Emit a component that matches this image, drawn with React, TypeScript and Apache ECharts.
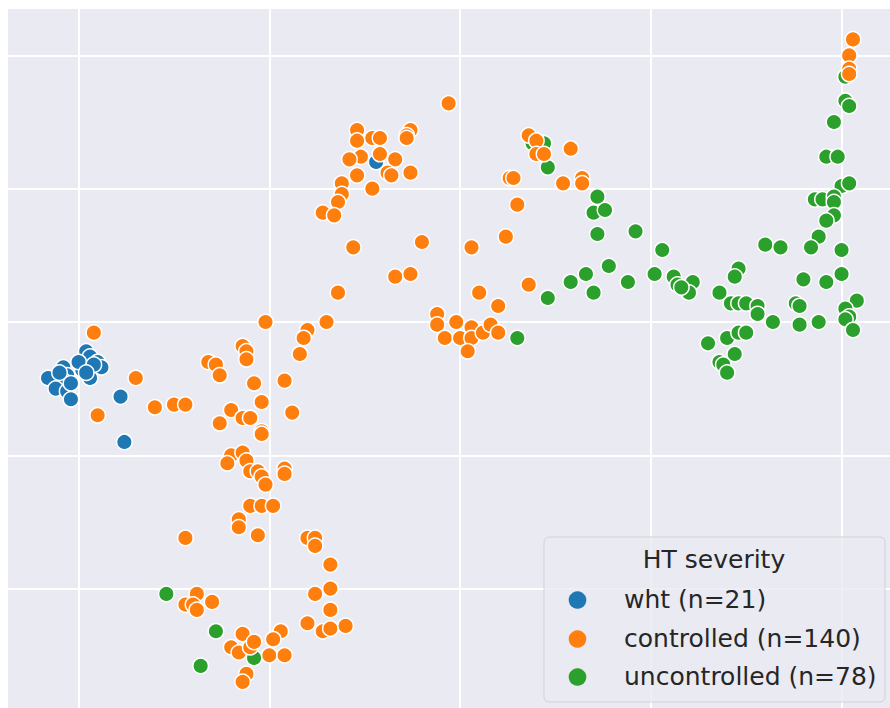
import React, { useEffect, useRef } from "react";
import * as echarts from "echarts";

const categories = ["wht (n=21)", "controlled (n=140)", "uncontrolled (n=78)"];
const legendTitle = "HT severity";
const colors = ["#1f77b4", "#ff7f0e", "#2ca02c"];

const whtPoints: [number, number][] = [
  [-98, -11], [-97, -13], [-95, -15], [-94, -17], [-99, -18], [-100, -15], [-97, -21],
  [-104, -17], [-103, -20], [-104, -22], [-108, -21], [-106, -25], [-103, -26], [-102, -29],
  [-89, -28], [-88, -45], [-22, 60], [-105, -19], [-96, -16], [-98, -19], [-102, -23],
];

const controlledPoints: [number, number][] = [
  [-96, -4], [-85, -21], [-95, -35], [-80, -32], [-51, 0], [-40, -3], [-41, -6], [-42, -12],
  [-35, 0], [-57, -9], [-56, -11], [-56, -14], [-66, -15], [-64, -16], [-63, -20], [-54, -23],
  [-46, -22], [-75, -31], [-72, -31], [-52, -30], [-60, -33], [-57, -36], [-55, -36], [-63, -38],
  [-44, -34], [-52, -41], [-52, -42], [-60, -50], [-61, -53], [-57, -49], [-56, -52], [-55, -56],
  [-53, -56], [-52, -58], [-51, -61], [-46, -55], [-46, -57], [-55, -69], [-52, -69], [-49, -69],
  [-58, -74], [-58, -77], [-53, -80], [-72, -81], [-40, -81], [-38, -81], [-38, -84], [-34, -91],
  [-34, -100], [-38, -102], [-34, -108], [-40, -113], [-36, -116], [-34, -115], [-30, -114],
  [-69, -102], [-72, -106], [-70, -106], [-69, -108], [-65, -105], [-57, -117], [-60, -122],
  [-58, -124], [-55, -122], [-54, -120], [-47, -116], [-49, -119], [-50, -125], [-46, -125],
  [-56, -132], [-57, -135],
  [-27, 72], [-27, 68], [-23, 69], [-21, 69], [-13, 72], [-14, 70], [-14, 69], [-26, 62],
  [-29, 61], [-21, 63], [-17, 61], [-27, 55], [-19, 56], [-18, 55], [-13, 56], [-23, 50],
  [-31, 52], [-31, 48], [-32, 45], [-36, 41], [-33, 40], [-28, 28], [-10, 30], [-17, 17],
  [-13, 18], [-32, 11], [-3, 82],
  [18, 70], [20, 68], [20, 63], [22, 63], [29, 65], [13, 54], [14, 54], [27, 52], [32, 54],
  [32, 52], [15, 44], [12, 32], [3, 28], [5, 11], [10, 6], [18, 14], [-6, 3], [-6, -1],
  [-4, -6], [-1, 0], [0, -6], [3, -2], [3, -6], [6, -4], [8, -1], [10, -4], [2, -11],
  [103, 106], [102, 100], [102, 95], [102, 93],
];

const uncontrolledPoints: [number, number][] = [
  [-77, -102], [-64, -116], [-54, -126], [-68, -129],
  [19, 67], [22, 67], [23, 58], [36, 47], [35, 41], [38, 42], [36, 33], [46, 34], [53, 27],
  [39, 21], [33, 18], [29, 15], [35, 11], [23, 9], [44, 15], [15, -6], [51, 18], [56, 17],
  [57, 14], [61, 15], [60, 11], [58, 13], [68, 11], [73, 20], [72, 17], [71, 7], [73, 7],
  [65, -8], [70, -6], [73, -4], [72, -12], [68, -15], [69, -16], [70, -19],
  [101, 92], [101, 83], [102, 81], [98, 75], [96, 62], [99, 62], [100, 51], [102, 52],
  [93, 46], [95, 46], [98, 47], [98, 45], [98, 40], [96, 38], [94, 32], [92, 28], [80, 29],
  [84, 28], [100, 27], [90, 16], [100, 18], [96, 15], [75, 7], [78, 6], [78, 3], [88, 7],
  [89, 6], [104, 8], [101, 5], [102, 2], [101, 1], [82, 0], [89, -1], [94, 0], [103, -3],
  [75, -4],
];

const xMin = -118.5;
const xMax = 112.7;
const yMin = -144.8;
const yMax = 117.4;

export default function App() {
  const ref = useRef<HTMLDivElement>(null);

  useEffect(() => {
    if (!ref.current) return;
    const chart = echarts.init(ref.current, undefined, { renderer: "svg" });
    const font = '"DejaVu Sans", Verdana, sans-serif';
    const seriesData = [whtPoints, controlledPoints, uncontrolledPoints];
    const drawOrder = [0, 2, 1];
    const legendRows = [600, 639, 677];

    const graphicEls: any[] = [
      {
        type: "rect",
        shape: { x: 544, y: 537, width: 341, height: 165, r: 5 },
        style: { fill: "rgba(234,234,242,0.8)", stroke: "rgba(204,204,204,0.8)", lineWidth: 1 },
        z: 100,
      },
      {
        type: "text",
        x: 714,
        y: 559,
        style: {
          text: legendTitle,
          font: `25px ${font}`,
          fill: "#262626",
          align: "center",
          verticalAlign: "middle",
          textAlign: "center",
          textVerticalAlign: "middle",
        },
        z: 101,
      },
    ];
    categories.forEach((name, i) => {
      graphicEls.push({
        type: "circle",
        shape: { cx: 577.5, cy: legendRows[i], r: 8.8 },
        style: { fill: colors[i] },
        z: 101,
      });
      graphicEls.push({
        type: "text",
        x: 624,
        y: legendRows[i] - 1,
        style: {
          text: name,
          font: `25px ${font}`,
          fill: "#262626",
          align: "left",
          verticalAlign: "middle",
          textAlign: "left",
          textVerticalAlign: "middle",
        },
        z: 101,
      });
    });

    chart.setOption({
      animation: false,
      grid: {
        left: 8,
        top: 9,
        right: 0,
        bottom: 0,
        show: true,
        backgroundColor: "#EAEAF2",
        borderWidth: 0,
        containLabel: false,
      },
      xAxis: {
        type: "value",
        min: xMin,
        max: xMax,
        splitNumber: 5,
        axisLine: { show: false },
        axisTick: { show: false },
        axisLabel: { show: false },
        splitLine: { show: true, showMinLine: false, showMaxLine: false, lineStyle: { color: "#ffffff", width: 2 } },
      },
      yAxis: {
        type: "value",
        min: yMin,
        max: yMax,
        splitNumber: 5,
        axisLine: { show: false },
        axisTick: { show: false },
        axisLabel: { show: false },
        splitLine: { show: true, showMinLine: false, showMaxLine: false, lineStyle: { color: "#ffffff", width: 2 } },
      },
      series: drawOrder.map((i, k) => ({
        type: "scatter",
        name: categories[i],
        data: seriesData[i],
        symbol: "circle",
        symbolSize: 15.5,
        z: 2 + k,
        itemStyle: { color: colors[i], borderColor: "#ffffff", borderWidth: 1.5, opacity: 1 },
        emphasis: { disabled: true },
      })),
      graphic: { elements: graphicEls },
    });
    return () => chart.dispose();
  }, []);

  return (
    <div
      ref={ref}
      style={{ position: "fixed", left: 0, top: 0, width: 890, height: 708, background: "#ffffff" }}
    />
  );
}
